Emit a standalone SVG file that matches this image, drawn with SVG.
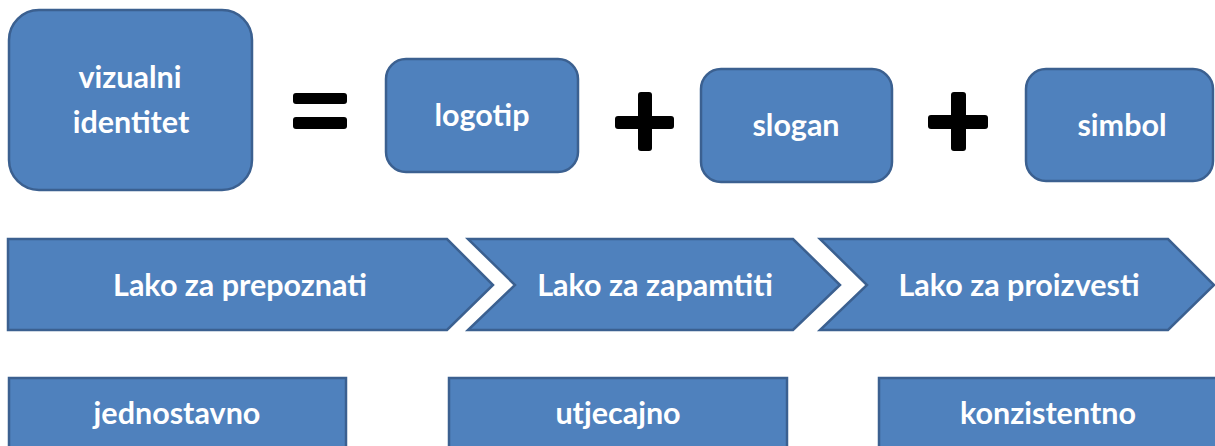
<svg xmlns="http://www.w3.org/2000/svg" width="1215" height="446" viewBox="0 0 1215 446">
<style>
.b{fill:#4F81BD;stroke:#3B6090;stroke-width:2.5}
.t{font-family:Lato,"Open Sans",sans-serif;font-weight:bold;fill:#ffffff;text-anchor:middle;font-size:30.5px}
.op{fill:#000000}
</style>
<rect width="1215" height="446" fill="#ffffff"/>
<g id="vizualni-identitet">
<rect class="b" x="9" y="10" width="243" height="180" rx="30"/>
<text class="t" x="130" y="88">vizualni</text>
<text class="t" x="131" y="133">identitet</text>
</g>
<g id="equals">
<rect class="op" x="293" y="93" width="54" height="11" rx="3"/>
<rect class="op" x="293" y="117" width="54" height="12" rx="3"/>
</g>
<g id="logotip">
<rect class="b" x="386" y="59" width="192" height="113" rx="20"/>
<text class="t" x="482" y="126">logotip</text>
</g>
<g id="plus1">
<rect class="op" x="615" y="116" width="59" height="13" rx="3"/>
<rect class="op" x="638" y="92" width="14" height="59" rx="3"/>
</g>
<g id="slogan">
<rect class="b" x="701" y="69" width="191" height="113" rx="20"/>
<text class="t" x="796" y="136">slogan</text>
</g>
<g id="plus2">
<rect class="op" x="928" y="115" width="60" height="14" rx="3"/>
<rect class="op" x="951" y="92" width="15" height="59" rx="3"/>
</g>
<g id="simbol">
<rect class="b" x="1026" y="69" width="187" height="112" rx="20"/>
<text class="t" x="1122" y="136">simbol</text>
</g>
<g id="lako-prepoznati">
<polygon class="b" points="8,239 447,239 493,285 447,330 8,330"/>
<text class="t" x="240" y="296">Lako za prepoznati</text>
</g>
<g id="lako-zapamtiti">
<polygon class="b" points="468,239 793,239 840,285 793,330 468,330 515,285"/>
<text class="t" x="655" y="296">Lako za zapamtiti</text>
</g>
<g id="lako-proizvesti">
<polygon class="b" points="820,239 1168,239 1214,285 1168,330 820,330 867,285"/>
<text class="t" x="1019" y="296">Lako za proizvesti</text>
</g>
<g id="jednostavno">
<rect class="b" x="9" y="378" width="337" height="80"/>
<text class="t" x="177" y="424">jednostavno</text>
</g>
<g id="utjecajno">
<rect class="b" x="449" y="378" width="338" height="80"/>
<text class="t" x="618" y="424">utjecajno</text>
</g>
<g id="konzistentno">
<rect class="b" x="879" y="378" width="340" height="80"/>
<text class="t" x="1048" y="424">konzistentno</text>
</g>
<g id="connectors"/>
</svg>
